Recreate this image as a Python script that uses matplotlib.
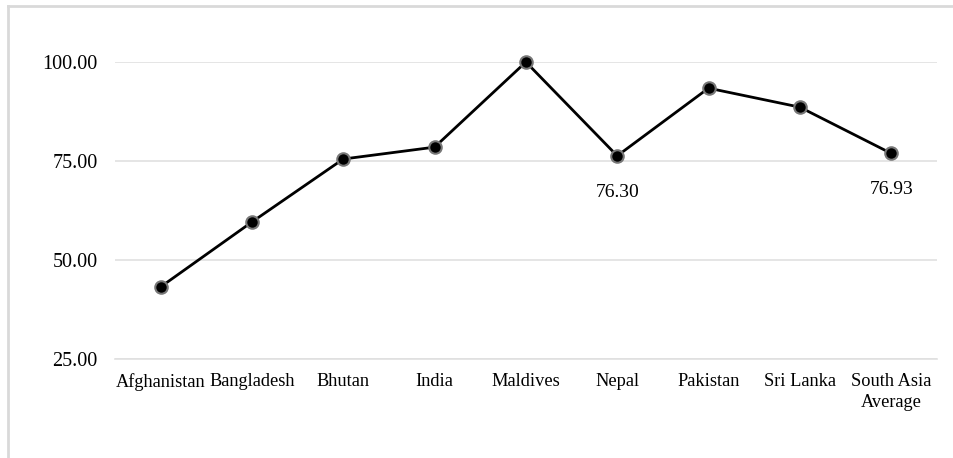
import matplotlib.pyplot as plt
from matplotlib.lines import Line2D

plt.rcParams['font.family'] = ['Liberation Serif', 'DejaVu Serif']

# values
countries = ['Afghanistan', 'Bangladesh', 'Bhutan', 'India', 'Maldives',
             'Nepal', 'Pakistan', 'Sri Lanka', 'South Asia\nAverage']
scores = [43.2, 59.6, 75.5, 78.5, 100.0, 76.30, 93.4, 88.6, 76.93]
labelled = ['Nepal', 'South Asia\nAverage']
y_ticks = [25, 50, 75, 100]

fig = plt.figure(figsize=(9.54, 4.58), dpi=100)
ax = fig.add_axes([0.1205, 0.2162, 0.8615, 0.6484])

x = list(range(len(countries)))
ax.plot(x, scores, color='black', lw=2, marker='o', markersize=9,
        markerfacecolor='black', markeredgecolor='#777777', markeredgewidth=1.5,
        zorder=3, clip_on=False)

for i, (c, v) in enumerate(zip(countries, scores)):
    if c in labelled:
        ax.annotate(f'{v:.2f}', (i, v), xytext=(0, -20), textcoords='offset points',
                    ha='center', va='top', fontsize=14)

ax.set_xlim(-0.5, len(countries) - 0.5)
ax.set_ylim(25, 100)
ax.set_yticks(y_ticks)
ax.set_yticklabels([f'{t:.2f}' for t in y_ticks], fontsize=14.5)
ax.set_xticks(x)
ax.set_xticklabels(countries, fontsize=13.2, linespacing=1.35)
ax.tick_params(axis='both', length=0)
ax.tick_params(axis='y', pad=12.5)
ax.tick_params(axis='x', pad=10)
ax.grid(axis='y', color='#e0e0e0', lw=1.2)
for s in ['top', 'right', 'left']:
    ax.spines[s].set_visible(False)
ax.spines['bottom'].set_color('#e0e0e0')
ax.spines['bottom'].set_linewidth(1.2)
ax.set_axisbelow(True)

# outer chart border (top and left visible)
fig.add_artist(Line2D([0.0089, 1.0], [0.9869, 0.9869], color='#d9d9d9', lw=2))
fig.add_artist(Line2D([0.0089, 0.0089], [0.0, 0.9869], color='#d9d9d9', lw=2))

fig.savefig('out.png', dpi=100)
